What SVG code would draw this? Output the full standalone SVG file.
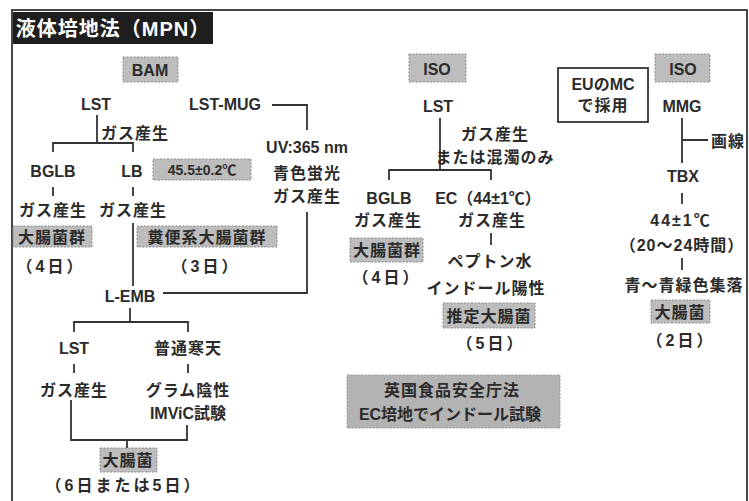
<svg xmlns="http://www.w3.org/2000/svg" width="749" height="501" viewBox="0 0 749 501">
<style>
text{font-family:"Liberation Sans","Noto Sans CJK JP",sans-serif;font-weight:bold;font-size:16px;fill:#2b2b2b;text-anchor:middle;dominant-baseline:central}
.jp{letter-spacing:1px}
.day{letter-spacing:3px}
.st{text-anchor:start}
.shade{fill:#bdbdbd;stroke:#8a8a8a;stroke-width:1;stroke-dasharray:2 1.5}
.shade2{fill:#b3b3b3;stroke:#999;stroke-width:1;stroke-dasharray:2 1.5}
.conn{fill:none;stroke:#333;stroke-width:1.8}
</style>
<rect x="0" y="0" width="749" height="501" fill="#ffffff"/>
<rect x="12" y="10" width="735" height="500" fill="none" stroke="#333" stroke-width="1.8"/>
<g id="title">
<rect x="13" y="12" width="200" height="32" fill="#1e1e1e"/>
<text x="113" y="29" style="fill:#ffffff;font-size:20px" class="jp">液体培地法（MPN）</text>
</g>
<g id="connectors">
<path class="conn" d="M97 115 V143 M53 152 V143 H133 V152"/>
<path class="conn" d="M53 187 V196 M133 187 V196"/>
<path class="conn" d="M133 223 V286"/>
<path class="conn" d="M272 105 H307 V130"/>
<path class="conn" d="M307 212 V293 H163"/>
<path class="conn" d="M130 308 V322 M74 332 V322 H188 V332"/>
<path class="conn" d="M74 364 V373 M188 364 V373"/>
<path class="conn" d="M71 400 V440 H187 V425 M127 440 V450"/>
<path class="conn" d="M440 118 V170 M389 180 V170 H491 V180"/>
<path class="conn" d="M491 233 V245"/>
<path class="conn" d="M682 118 V163 M682 140 H708"/>
<path class="conn" d="M682 193 V204 M682 258 V270"/>
</g>
<g id="bam"><rect class="shade" x="123" y="57" width="55" height="25"/><text x="150" y="70">BAM</text></g>
<g id="lst1"><text x="96" y="104">LST</text></g>
<g id="lstmug"><text x="225" y="104">LST-MUG</text></g>
<g id="gas1"><text x="101" y="133" class="st jp">ガス産生</text></g>
<g id="bglb1"><text x="53" y="171">BGLB</text></g>
<g id="lb1"><text x="132" y="171">LB</text></g>
<g id="temp1"><rect class="shade" x="153" y="159" width="98" height="21"/><text x="202" y="170" style="font-size:14px">45.5±0.2℃</text></g>
<g id="uv"><text x="307" y="147">UV:365 nm</text><text x="307" y="173" class="jp">青色蛍光</text><text x="307" y="196" class="jp">ガス産生</text></g>
<g id="gas2"><text x="53" y="210" class="jp">ガス産生</text></g>
<g id="gas3"><text x="133" y="210" class="jp">ガス産生</text></g>
<g id="coli1"><rect class="shade" x="13" y="226" width="79" height="21"/><text x="52" y="237" class="jp">大腸菌群</text></g>
<g id="fecal"><rect class="shade" x="137" y="226" width="140" height="21"/><text x="207" y="237" class="jp">糞便系大腸菌群</text></g>
<g id="d4a"><text x="51" y="266" class="day">（4日）</text></g>
<g id="d3"><text x="206" y="266" class="day">（3日）</text></g>
<g id="lemb"><text x="130" y="296">L-EMB</text></g>
<g id="lst2"><text x="74" y="348">LST</text></g>
<g id="agar"><text x="188" y="348" class="jp">普通寒天</text></g>
<g id="gas4"><text x="74" y="390" class="jp">ガス産生</text></g>
<g id="gram"><text x="188" y="390" class="jp">グラム陰性</text><text x="188" y="413">IMViC試験</text></g>
<g id="ecoli1"><rect class="shade" x="100" y="448" width="57" height="24"/><text x="128" y="460" class="jp">大腸菌</text></g>
<g id="d65"><text x="124" y="485" class="day">（6日または5日）</text></g>
<g id="iso1"><rect class="shade" x="409" y="54" width="57" height="28"/><text x="437" y="69">ISO</text></g>
<g id="lst3"><text x="438" y="106">LST</text></g>
<g id="gas5"><text x="495" y="134" class="jp">ガス産生</text><text x="495" y="157" class="jp">または混濁のみ</text></g>
<g id="bglb2"><text x="389" y="198">BGLB</text></g>
<g id="ec"><text x="488" y="198">EC（44±1℃）</text></g>
<g id="gas6"><text x="388" y="220" class="jp">ガス産生</text></g>
<g id="gas7"><text x="492" y="220" class="jp">ガス産生</text></g>
<g id="coli2"><rect class="shade" x="350" y="238" width="73" height="24"/><text x="387" y="250" class="jp">大腸菌群</text></g>
<g id="d4b"><text x="387" y="277" class="day">（4日）</text></g>
<g id="pepton"><text x="490" y="261" class="jp">ペプトン水</text><text x="486" y="288" class="jp">インドール陽性</text></g>
<g id="presumed"><rect class="shade" x="443" y="303" width="92" height="25"/><text x="489" y="316" class="jp">推定大腸菌</text></g>
<g id="d5"><text x="491" y="343" class="day">（5日）</text></g>
<g id="uk"><rect class="shade2" x="347" y="375" width="213" height="53"/><text x="452" y="390" class="jp">英国食品安全庁法</text><text x="450" y="414">EC培地でインドール試験</text></g>
<g id="eu"><rect x="558" y="68" width="90" height="54" fill="#fff" stroke="#333" stroke-width="1.8"/><text x="603" y="84">EUのMC</text><text x="603" y="105" class="jp">で採用</text></g>
<g id="iso2"><rect class="shade" x="655" y="54" width="55" height="28"/><text x="683" y="69">ISO</text></g>
<g id="mmg"><text x="682" y="106">MMG</text></g>
<g id="streak"><text x="711" y="141" class="st jp">画線</text></g>
<g id="tbx"><text x="683" y="176">TBX</text></g>
<g id="temp2"><text x="681" y="220" style="letter-spacing:2px">44±1℃</text><text x="682" y="245" class="jp">（20～24時間）</text></g>
<g id="colony"><text x="684" y="285" class="jp">青～青緑色集落</text></g>
<g id="ecoli2"><rect class="shade" x="651" y="300" width="59" height="23"/><text x="680" y="312" class="jp">大腸菌</text></g>
<g id="d2"><text x="681" y="340" class="day">（2日）</text></g>
</svg>
